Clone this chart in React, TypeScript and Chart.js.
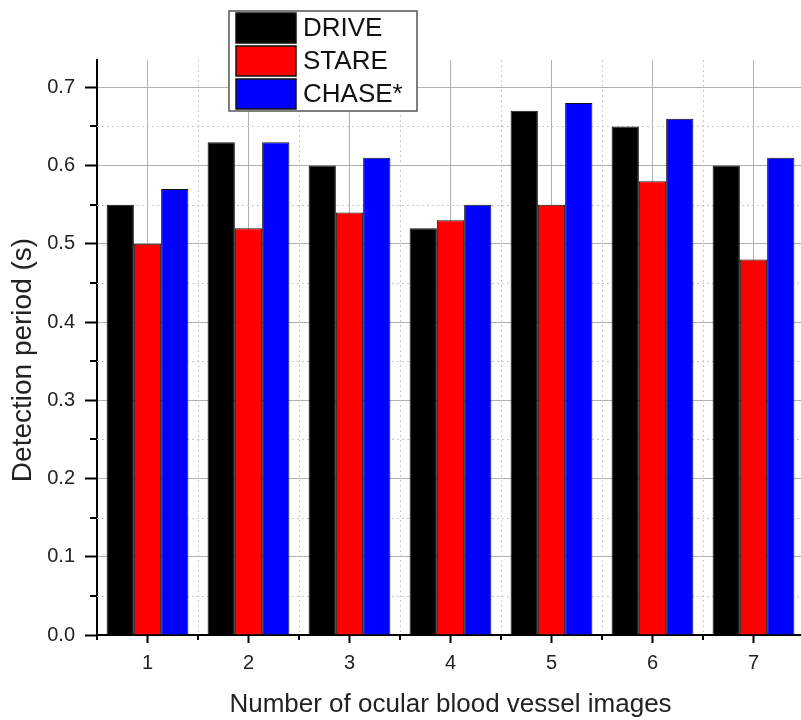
import React, { useEffect, useRef } from "react";
import { Chart, registerables } from "chart.js";

Chart.register(...registerables);

const categories = ["1", "2", "3", "4", "5", "6", "7"];
const seriesLabels = ["DRIVE", "STARE", "CHASE*"];
const driveValues = [0.55, 0.63, 0.6, 0.52, 0.67, 0.65, 0.6];
const stareValues = [0.5, 0.52, 0.54, 0.53, 0.55, 0.58, 0.48];
const chaseValues = [0.57, 0.63, 0.61, 0.55, 0.68, 0.66, 0.61];
const yTickValues = [0, 0.1, 0.2, 0.3, 0.4, 0.5, 0.6, 0.7];
const yMinorValues = [0.05, 0.15, 0.25, 0.35, 0.45, 0.55, 0.65];
const seriesColors = ["#000000", "#ff0000", "#0000ff"];
const yTitle = "Detection period (s)";
const xTitle = "Number of ocular blood vessel images";
const FONT = "'Liberation Sans', Arial, sans-serif";

const minorPlugin = {
  id: "minorGrid",
  beforeDatasetsDraw(chart: any) {
    const { ctx, chartArea, scales } = chart;
    const x = scales.x;
    const y = scales.y;
    ctx.save();
    ctx.strokeStyle = "#c8c8c8";
    ctx.lineWidth = 1;
    ctx.setLineDash([2, 3]);
    for (const v of yMinorValues) {
      const py = Math.round(y.getPixelForValue(v)) + 0.5;
      ctx.beginPath();
      ctx.moveTo(chartArea.left, py);
      ctx.lineTo(chartArea.right, py);
      ctx.stroke();
    }
    const bounds: number[] = [];
    for (let i = 0; i <= categories.length; i++) {
      bounds.push(x.getPixelForValue(i - 0.5));
    }
    for (let i = 1; i < bounds.length - 1; i++) {
      const px = Math.round(bounds[i]) + 0.5;
      ctx.beginPath();
      ctx.moveTo(px, chartArea.top);
      ctx.lineTo(px, chartArea.bottom);
      ctx.stroke();
    }
    ctx.setLineDash([]);
    ctx.strokeStyle = "#000";
    ctx.lineWidth = 2;
    for (const v of yMinorValues) {
      const py = Math.round(y.getPixelForValue(v));
      ctx.beginPath();
      ctx.moveTo(chartArea.left - 7, py);
      ctx.lineTo(chartArea.left, py);
      ctx.stroke();
    }
    for (let i = 0; i < bounds.length; i++) {
      const px = Math.round(bounds[i]);
      ctx.beginPath();
      ctx.moveTo(px, chartArea.bottom);
      ctx.lineTo(px, chartArea.bottom + 5);
      ctx.stroke();
    }
    ctx.restore();
  },
};

const overlayPlugin = {
  id: "overlay",
  afterDraw(chart: any) {
    const { ctx } = chart;
    ctx.save();
    // y axis title
    ctx.translate(23, 360);
    ctx.rotate(-Math.PI / 2);
    ctx.fillStyle = "#222";
    ctx.font = `28px ${FONT}`;
    ctx.textAlign = "center";
    ctx.textBaseline = "middle";
    ctx.fillText(yTitle, 0, 0);
    ctx.restore();

    ctx.save();
    const bx = 229, by = 11, bw = 188, bh = 100;
    ctx.fillStyle = "#fff";
    ctx.fillRect(bx, by, bw, bh);
    ctx.strokeStyle = "#555";
    ctx.lineWidth = 1.5;
    ctx.strokeRect(bx, by, bw, bh);
    const rowTops = [13, 46, 79];
    chart.data.datasets.forEach((ds: any, i: number) => {
      const top = rowTops[i];
      ctx.fillStyle = ds.backgroundColor;
      ctx.fillRect(236, top, 60, 30);
      ctx.strokeStyle = "#111";
      ctx.lineWidth = 1.5;
      ctx.strokeRect(236, top, 60, 30);
      ctx.fillStyle = "#111";
      ctx.font = `26px ${FONT}`;
      ctx.textBaseline = "middle";
      ctx.textAlign = "left";
      ctx.fillText(ds.label, 303, top + 16);
    });
    ctx.restore();
  },
};

export default function App() {
  const ref = useRef<HTMLCanvasElement | null>(null);
  useEffect(() => {
    if (!ref.current) return;
    const values = [driveValues, stareValues, chaseValues];
    const chart = new Chart(ref.current, {
      type: "bar",
      data: {
        labels: categories,
        datasets: seriesLabels.map((label, i) => ({
          label,
          data: values[i],
          backgroundColor: seriesColors[i],
          borderColor: "#111",
          borderWidth: 1,
          barPercentage: 1,
          categoryPercentage: 0.81,
        })),
      },
      options: {
        responsive: false,
        animation: false,
        devicePixelRatio: 1,
        layout: { padding: { left: 0, right: 0, top: 60, bottom: 0 } },
        plugins: { legend: { display: false }, tooltip: { enabled: false } },
        scales: {
          x: {
            offset: true,
            grid: {
              offset: false,
              color: "#b0b0b0",
              lineWidth: 1,
              tickColor: "#000",
              tickLength: 8,
              tickWidth: 2,
            },
            border: { color: "#000", width: 2 },
            ticks: { color: "#222", font: { family: FONT, size: 20 }, padding: 8 },
            title: {
              display: true,
              text: xTitle,
              color: "#222",
              font: { family: FONT, size: 26 },
              padding: { top: 0, bottom: 0 },
            },
            afterFit(scale: any) {
              scale.height = 85;
            },
          },
          y: {
            min: 0,
            max: 0.735,
            grid: {
              color: "#b0b0b0",
              lineWidth: 1,
              tickColor: "#000",
              tickLength: 12,
              tickWidth: 2,
            },
            border: { color: "#000", width: 2 },
            afterBuildTicks(scale: any) {
              scale.ticks = yTickValues.map((v) => ({ value: v }));
            },
            ticks: {
              color: "#222",
              font: { family: FONT, size: 20 },
              padding: 10,
              callback: (v: any) => Number(v).toFixed(1),
            },
            title: { display: false },
            afterFit(scale: any) {
              scale.width = 97;
            },
          },
        },
      },
      plugins: [minorPlugin, overlayPlugin],
    });
    return () => chart.destroy();
  }, []);
  return (
    <div
      style={{
        position: "absolute",
        left: 0,
        top: 0,
        width: 801,
        height: 720,
        overflow: "hidden",
        background: "#fff",
      }}
    >
      <canvas ref={ref} width={804} height={720} style={{ display: "block" }} />
    </div>
  );
}
